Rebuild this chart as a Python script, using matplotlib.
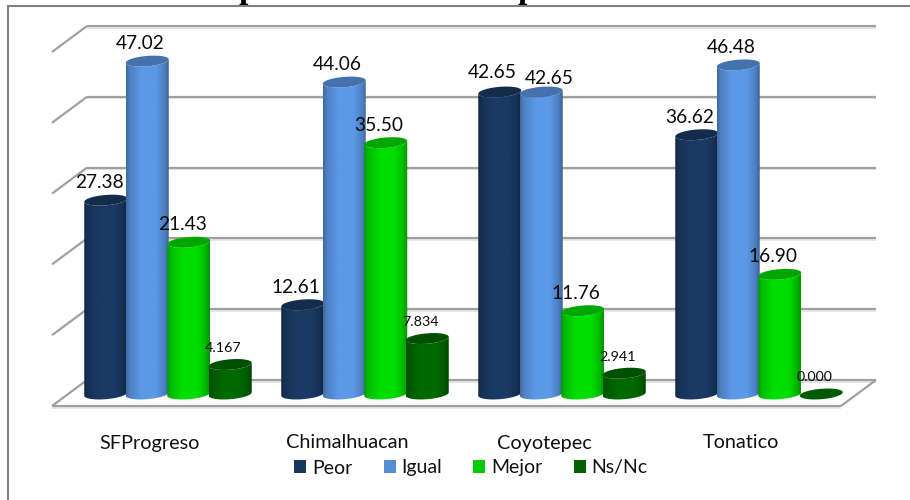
import numpy as np
import matplotlib
matplotlib.use("Agg")
import matplotlib.pyplot as plt
from matplotlib.colors import to_rgb
from matplotlib.lines import Line2D
from matplotlib.patches import Patch, Polygon

places = ["SFProgreso", "Chimalhuacan", "Coyotepec", "Tonatico"]
series = ["Peor", "Igual", "Mejor", "Ns/Nc"]
peor = [27.38, 12.61, 42.65, 36.62]
igual = [47.02, 44.06, 42.65, 46.48]
mejor = [21.43, 35.50, 11.76, 16.90]
nsnc = [4.167, 7.834, 2.941, 0.000]
bar_colors = ["#1A3A65", "#5C98E6", "#00DE00", "#006A00"]
legend_colors = ["#17375E", "#558ED5", "#00CC00", "#006100"]
grid_values = [0, 10, 20, 30, 40, 50]

W, H = 910, 500
# scale of the drawing: 197 px between groups, 7.08 px per unit, zero line at y=394
PX_X = 197.0
PX_Y = 7.08
X0 = 168.0
Y0 = 394.0

plt.rcParams["font.family"] = ["Lato", "DejaVu Sans"]

fig = plt.figure(figsize=(W / 100, H / 100), dpi=100, facecolor="white")
ax = fig.add_axes([0, 0, 1, 1])
ax.set_xlim(-X0 / PX_X, (W - X0) / PX_X)
ax.set_ylim((Y0 - H) / PX_Y, Y0 / PX_Y)
ax.axis("off")

# floor and wall lines, the wall sits behind the bars by a fixed depth
depth_x = 35 / PX_X
back_y = 14 / PX_Y
front_y = -12 / PX_Y
left = (87 - X0) / PX_X
right = (876 - X0) / PX_X
line_kw = dict(color="#a0a0a0", lw=1.6, solid_capstyle="butt", zorder=1)
shadow_kw = dict(color="#e2e2e2", lw=1.2, solid_capstyle="butt", zorder=0.9)
for v in grid_values:
    y = v + back_y
    ax.plot([left, right], [y - 0.22, y - 0.22], **shadow_kw)
    ax.plot([left, right], [y, y], **line_kw)
    ax.plot([left, left - depth_x], [y, y + front_y - back_y], **line_kw)
ax.plot([left - depth_x, right - depth_x], [front_y - 0.22, front_y - 0.22], **shadow_kw)
ax.plot([left - depth_x, right - depth_x], [front_y, front_y], **line_kw)
ax.plot([right, right - depth_x], [back_y, front_y], **line_kw)

# shading across a cylinder, dark at both edges
u = np.linspace(0, 1, 64)
shade = np.interp(u, [0, 0.08, 0.35, 0.7, 0.9, 1], [0.7, 0.84, 1, 1, 0.84, 0.66])

bar_step = 41.5 / PX_X
half_w = 21.5 / PX_X
rim_b = 5.2 / PX_Y
rim_tilt = 1.7 / PX_Y


def rim(cx, v, t):
    return cx + half_w * np.cos(t), v + rim_b * np.sin(t) + rim_tilt * np.cos(t)


def draw_cylinder(cx, v, color, z):
    rgb = np.array(to_rgb(color))
    t_low = np.linspace(np.pi, 2 * np.pi, 40)
    t_all = np.linspace(0, 2 * np.pi, 80)
    if v > 0:
        xb, yb = rim(cx, 0, t_low)
        xt, yt = rim(cx, v, t_low[::-1])
        body = Polygon(np.column_stack([np.r_[xb, xt], np.r_[yb, yt]]),
                       transform=ax.transData, fc="none", ec="none")
        ax.add_patch(body)
        img = ax.imshow(np.outer(shade, rgb)[None, :, :], aspect="auto", interpolation="bilinear",
                        extent=[cx - half_w, cx + half_w, -rim_b * 2, v + rim_b * 2], zorder=z)
        img.set_clip_path(body)
    xc, yc = rim(cx, v, t_all)
    ax.fill(xc, yc, color=tuple(rgb * (0.75 if v > 0 else 0.85)), lw=0, zorder=z + 0.1)


offset = (np.arange(len(series)) - 1.5) * bar_step
all_values = [peor, igual, mejor, nsnc]
for i in range(len(places)):
    for j, values in enumerate(all_values):
        draw_cylinder(i + offset[j], values[i], bar_colors[j], 2 + i + j * 0.2)

# the two equal Coyotepec labels are pushed apart so they stay readable
label_nudge = {(2, 0): (-0.7, 1.2), (2, 1): (10.5, -3.2)}

# value labels, the last series uses three decimals and a smaller size
for i in range(len(places)):
    for j, values in enumerate(all_values):
        fmt, size = ("{:.3f}", 10.3) if j == 3 else ("{:.2f}", 13.8)
        dx, dy = label_nudge.get((i, j), (0, 0))
        ax.annotate(fmt.format(values[i]), (i + offset[j], values[i]),
                    xytext=(-4.8 + dx, (12.6 if j < 3 else 12.0) + dy), textcoords="offset points",
                    ha="center", va="center", fontsize=size, color="#0a0a0a", zorder=20)

for i, name in enumerate(places):
    ax.text(i - 18 / PX_X, (Y0 - 443) / PX_Y, name, ha="center", va="center",
            fontsize=14.3, color="#111111", zorder=20)

handles = [Patch(fc=c, ec="none", label=s) for c, s in zip(legend_colors, series)]
fig.legend(handles=handles, loc="center", bbox_to_anchor=(471 / W, 1 - 468 / H), ncol=4, frameon=False,
           fontsize=14, handlelength=0.62, handleheight=0.62, handletextpad=0.3, columnspacing=1.6,
           labelcolor="#111111")

# outer border, only the top and left edges fall inside the image
fig.add_artist(Line2D([8 / W, 8 / W, 1], [0, 1 - 6 / H, 1 - 6 / H], color="#808080", lw=1.5,
                      transform=fig.transFigure, solid_joinstyle="miter"))

# descenders of the heading, which runs off the top edge
for x_px in [248, 527]:
    fig.text(x_px / W, 1 + 2 / H, "p", family="Liberation Serif", fontweight="bold", fontsize=24,
             ha="center", va="baseline", color="black")

fig.savefig("out.png", dpi=100)
